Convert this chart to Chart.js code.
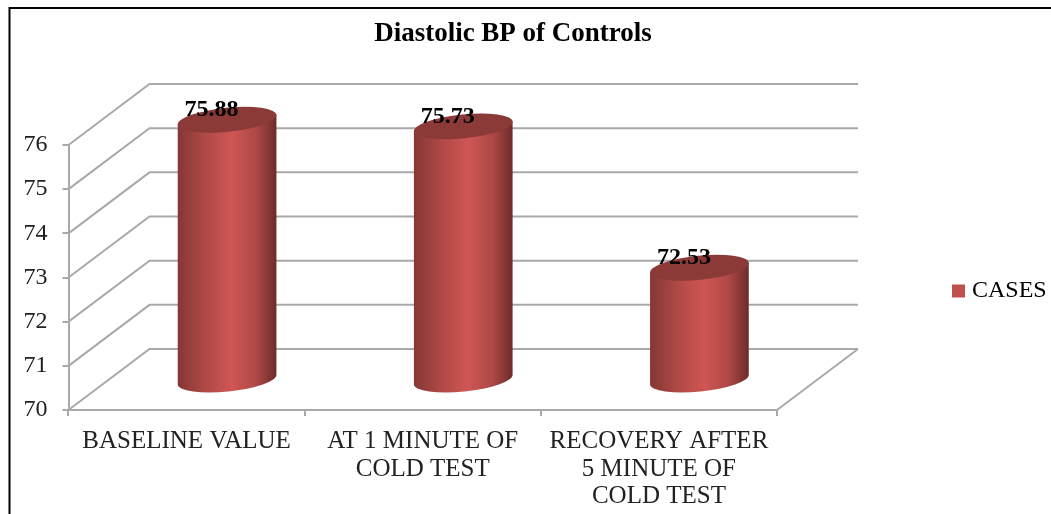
<!DOCTYPE html>
<html>
<head>
<meta charset="utf-8">
<title>Diastolic BP of Controls</title>
<script src="https://cdn.jsdelivr.net/npm/chart.js@4"></script>
<style>
  html, body { margin: 0; padding: 0; background: #fff; }
  canvas { display: block; }
</style>
</head>
<body>
<canvas id="bpChart" width="1051" height="514"></canvas>
<script>
const categories = ['BASELINE VALUE', ['AT 1 MINUTE OF', 'COLD TEST'], ['RECOVERY AFTER', '5 MINUTE OF', 'COLD TEST']];
const caseValues = [75.88, 75.73, 72.53];
const seriesName = 'CASES';
const chartTitle = 'Diastolic BP of Controls';

const SERIF = '"Liberation Serif", "Times New Roman", serif';
const GRID = '#a9a9a9';
const BAR_RED = '#c0504d';
// how far the back wall sits from the front plane
const DEPTH_X = 81;
const DEPTH_Y = -61;

// frame + 3D walls, drawn from the y scale ticks
const walls = {
  id: 'walls',
  afterLayout(chart) {
    // title and legend sit outside the plot, put them where the original has them
    chart.titleBlock.left = 0;
    chart.titleBlock.right = 1026;
    chart.legend.left = 950;
    chart.legend.right = 1051;
    chart.legend.top = 272;
    chart.legend.bottom = 318;
  },
  beforeDraw(chart) {
    const ctx = chart.ctx;
    ctx.save();
    ctx.strokeStyle = '#000';
    ctx.lineWidth = 2;
    ctx.strokeRect(9.5, 8, 1200, 700);
    ctx.restore();
  },
  beforeDatasetsDraw(chart) {
    const { ctx, chartArea, scales } = chart;
    ctx.save();
    ctx.strokeStyle = GRID;
    ctx.lineWidth = 2;
    scales.y.ticks.forEach(t => {
      const y = scales.y.getPixelForValue(t.value);
      ctx.beginPath();
      ctx.moveTo(chartArea.left, y);
      ctx.lineTo(chartArea.left + DEPTH_X, y + DEPTH_Y);
      ctx.lineTo(chartArea.right + DEPTH_X, y + DEPTH_Y);
      ctx.stroke();
    });
    ctx.beginPath();
    ctx.moveTo(chartArea.right, chartArea.bottom);
    ctx.lineTo(chartArea.right + DEPTH_X, chartArea.bottom + DEPTH_Y);
    ctx.stroke();
    ctx.restore();
  },
  // replace the flat bars with cylinders
  beforeDatasetDraw(chart, args) {
    const { ctx, scales } = chart;
    args.meta.data.forEach(bar => {
      const cx = bar.x + DEPTH_X / 2;
      const rx = bar.width / 2;
      const ry = 12;
      const tilt = -0.1;
      const topY = bar.y + DEPTH_Y / 2;
      const baseY = scales.y.getPixelForValue(scales.y.min) + DEPTH_Y / 2;
      const dx = rx * Math.cos(tilt);
      const dy = rx * Math.sin(tilt);

      const side = ctx.createLinearGradient(cx - rx, 0, cx + rx, 0);
      side.addColorStop(0, '#853735');
      side.addColorStop(0.3, '#b24a47');
      side.addColorStop(0.55, '#cf5654');
      side.addColorStop(0.8, '#ad4846');
      side.addColorStop(1, '#6c2b29');
      ctx.save();
      ctx.fillStyle = side;
      ctx.beginPath();
      ctx.moveTo(cx - dx, topY - dy);
      ctx.lineTo(cx - dx, baseY - dy);
      ctx.ellipse(cx, baseY, rx, ry, tilt, Math.PI, 0, true);
      ctx.lineTo(cx + dx, topY + dy);
      ctx.closePath();
      ctx.fill();

      ctx.fillStyle = '#8b3a38';
      ctx.beginPath();
      ctx.ellipse(cx, topY, rx, ry, tilt, 0, Math.PI * 2);
      ctx.fill();
      ctx.restore();
    });
    return false;
  },
  afterDatasetsDraw(chart) {
    const { ctx } = chart;
    const meta = chart.getDatasetMeta(0);
    ctx.save();
    ctx.font = 'bold 24px ' + SERIF;
    ctx.fillStyle = '#000';
    ctx.textAlign = 'center';
    ctx.textBaseline = 'middle';
    meta.data.forEach((bar, i) => {
      ctx.fillText(caseValues[i].toFixed(2), bar.x + 25, bar.y + DEPTH_Y / 2 - 10);
    });
    ctx.restore();
  }
};

new Chart(document.getElementById('bpChart'), {
  type: 'bar',
  data: {
    labels: categories,
    datasets: [{
      label: seriesName,
      data: caseValues,
      backgroundColor: BAR_RED,
      categoryPercentage: 1,
      barPercentage: 0.42
    }]
  },
  plugins: [walls],
  options: {
    responsive: false,
    animation: false,
    layout: { padding: { left: 0, right: 274, top: 0, bottom: 0 } },
    plugins: {
      title: {
        display: true,
        text: chartTitle,
        color: '#000',
        font: { family: SERIF, size: 27, weight: 'bold', lineHeight: 1.2 },
        padding: { top: 18, bottom: 94.6 }
      },
      legend: {
        position: 'chartArea',
        align: 'start',
        labels: {
          color: '#222',
          font: { family: SERIF, size: 24 },
          // thin box + wide stroke so the text sits close to the swatch
          boxWidth: 3,
          boxHeight: 3,
          padding: 7,
          generateLabels: () => [{ text: seriesName, fillStyle: BAR_RED, strokeStyle: BAR_RED, lineWidth: 10, datasetIndex: 0 }]
        }
      },
      tooltip: { enabled: false }
    },
    scales: {
      x: {
        afterFit(s) { s.height = 104; },
        border: { display: true, color: GRID, width: 2 },
        grid: { drawOnChartArea: false, drawTicks: true, tickLength: 6, color: GRID, lineWidth: 2 },
        ticks: {
          color: '#222',
          font: { family: SERIF, size: 25, lineHeight: 1.1 },
          padding: 12,
          maxRotation: 0,
          minRotation: 0,
          autoSkip: false
        }
      },
      y: {
        min: 70,
        max: 76,
        afterFit(s) { s.width = 68.5; },
        border: { display: true, color: GRID, width: 2 },
        grid: { drawOnChartArea: false, drawTicks: true, tickLength: 6, color: GRID, lineWidth: 2 },
        ticks: {
          stepSize: 1,
          color: '#222',
          font: { family: SERIF, size: 24 },
          padding: 15
        }
      }
    }
  }
});
</script>
</body>
</html>
